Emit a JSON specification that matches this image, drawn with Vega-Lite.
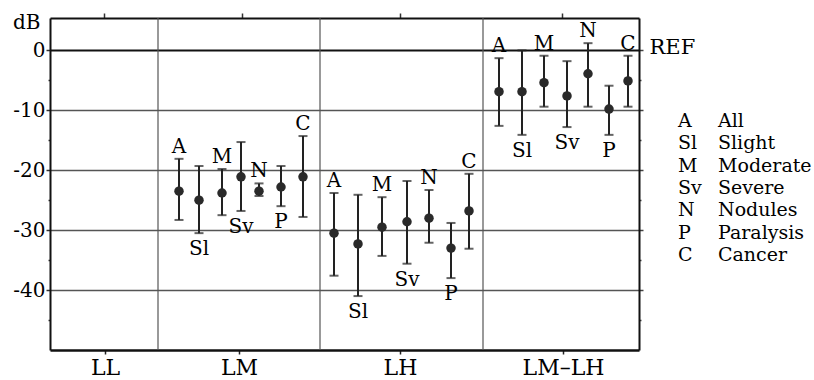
{
  "$schema": "https://vega.github.io/schema/vega-lite/v6.json",
  "padding": {"left": 12, "top": 12, "right": 0, "bottom": 0},
  "background": "white",
  "config": {
    "font": "DejaVu Serif",
    "view": {"stroke": null},
    "text": {"font": "DejaVu Serif"}
  },
  "bounds": "flush",
  "spacing": 39,
  "hconcat": [
    {
      "width": 589,
      "height": 332,
      "data": {
        "values": [
          {"grp": "LM", "abbr": "A", "x": 129, "mean": -23.5, "lo": -28.3, "hi": -18.1, "side": "above"},
          {"grp": "LM", "abbr": "Sl", "x": 149, "mean": -25.0, "lo": -30.5, "hi": -19.3, "side": "below"},
          {"grp": "LM", "abbr": "M", "x": 172, "mean": -23.8, "lo": -27.5, "hi": -19.8, "side": "above"},
          {"grp": "LM", "abbr": "Sv", "x": 191, "mean": -21.1, "lo": -26.8, "hi": -15.3, "side": "below"},
          {"grp": "LM", "abbr": "N", "x": 209, "mean": -23.5, "lo": -24.3, "hi": -22.2, "side": "above"},
          {"grp": "LM", "abbr": "P", "x": 231, "mean": -22.8, "lo": -26.0, "hi": -19.3, "side": "below"},
          {"grp": "LM", "abbr": "C", "x": 253, "mean": -21.1, "lo": -27.8, "hi": -14.3, "side": "above"},
          {"grp": "LH", "abbr": "A", "x": 284, "mean": -30.5, "lo": -37.6, "hi": -23.8, "side": "above"},
          {"grp": "LH", "abbr": "Sl", "x": 308, "mean": -32.3, "lo": -41.0, "hi": -24.1, "side": "below"},
          {"grp": "LH", "abbr": "M", "x": 332, "mean": -29.5, "lo": -34.3, "hi": -24.5, "side": "above"},
          {"grp": "LH", "abbr": "Sv", "x": 357, "mean": -28.6, "lo": -35.6, "hi": -21.8, "side": "below"},
          {"grp": "LH", "abbr": "N", "x": 379, "mean": -28.0, "lo": -32.1, "hi": -23.3, "side": "above"},
          {"grp": "LH", "abbr": "P", "x": 401, "mean": -33.0, "lo": -38.0, "hi": -28.8, "side": "below"},
          {"grp": "LH", "abbr": "C", "x": 419, "mean": -26.8, "lo": -33.1, "hi": -20.6, "side": "above"},
          {"grp": "LM-LH", "abbr": "A", "x": 449, "mean": -6.9, "lo": -12.6, "hi": -1.3, "side": "above"},
          {"grp": "LM-LH", "abbr": "Sl", "x": 472, "mean": -6.9, "lo": -14.1, "hi": 0.0, "side": "below"},
          {"grp": "LM-LH", "abbr": "M", "x": 494, "mean": -5.4, "lo": -9.4, "hi": -0.9, "side": "above"},
          {"grp": "LM-LH", "abbr": "Sv", "x": 517, "mean": -7.6, "lo": -12.8, "hi": -1.8, "side": "below"},
          {"grp": "LM-LH", "abbr": "N", "x": 538, "mean": -3.9, "lo": -9.4, "hi": 1.2, "side": "above"},
          {"grp": "LM-LH", "abbr": "P", "x": 559, "mean": -9.8, "lo": -14.1, "hi": -5.9, "side": "below"},
          {"grp": "LM-LH", "abbr": "C", "x": 578, "mean": -5.1, "lo": -9.4, "hi": -0.9, "side": "above"}
        ]
      },
      "resolve": {"axis": {"x": "independent", "y": "independent"}},
      "layer": [
        {
          "data": {"values": [{"d": 108}, {"d": 270}, {"d": 433}]},
          "mark": {"type": "rule", "color": "#555555", "strokeWidth": 1.2},
          "encoding": {
            "x": {
              "field": "d", "type": "quantitative",
              "scale": {"domain": [0, 589], "nice": false, "zero": false},
              "axis": {
                "orient": "bottom", "title": null, "grid": false,
                "values": [55, 189, 350, 513],
                "labelExpr": "datum.value == 55 ? 'LL' : datum.value == 189 ? 'LM' : datum.value == 350 ? 'LH' : 'LM–LH'",
                "labelFontSize": 22, "labelColor": "#000000", "labelPadding": 3,
                "labelFont": "DejaVu Serif",
                "tickSize": 4, "tickWidth": 1.5, "tickColor": "#222222",
                "domainColor": "#111111", "domainWidth": 2.5
              }
            }
          }
        },
        {
          "mark": {"type": "rule", "color": "#222222", "strokeWidth": 2},
          "encoding": {
            "x": {
              "field": "x", "type": "quantitative",
              "scale": {"domain": [0, 589], "nice": false, "zero": false},
              "axis": {
                "orient": "top", "title": null, "grid": false, "labels": false,
                "values": [54, 192, 350, 512],
                "tickSize": 5, "tickWidth": 1.5, "tickColor": "#333333",
                "domainColor": "#111111", "domainWidth": 2
              }
            },
            "y": {
              "field": "lo", "type": "quantitative",
              "scale": {"domain": [-50, 5.4], "nice": false, "zero": false},
              "axis": {
                "orient": "left",
                "title": "dB", "titleAngle": 0, "titleAlign": "right", "titleBaseline": "middle",
                "titleX": -10, "titleY": 4, "titleFontSize": 20, "titleFontWeight": "normal",
                "titleFont": "DejaVu Serif", "titleColor": "#000000",
                "values": [-45, -40, -35, -30, -25, -20, -15, -10, -5, 0],
                "labelExpr": "datum.value % 10 == 0 ? toString(datum.value) : ''",
                "labelFontSize": 20, "labelColor": "#000000", "labelPadding": 1,
                "labelFont": "DejaVu Serif",
                "tickSize": {"condition": {"test": "datum.value % 10 != 0", "value": 2}, "value": 4},
                "tickWidth": 1.5, "tickColor": "#333333",
                "grid": true,
                "gridOpacity": {"condition": {"test": "datum.value % 10 != 0", "value": 0}, "value": 1},
                "gridColor": {"condition": {"test": "datum.value == 0", "value": "#111111"}, "value": "#555555"},
                "gridWidth": {"condition": {"test": "datum.value == 0", "value": 2}, "value": 1.5},
                "domainColor": "#111111", "domainWidth": 2
              }
            },
            "y2": {"field": "hi"}
          }
        },
        {
          "mark": {"type": "tick", "orient": "horizontal", "size": 9, "thickness": 2, "color": "#222222"},
          "encoding": {
            "x": {"field": "x", "type": "quantitative", "axis": null},
            "y": {
              "field": "hi", "type": "quantitative",
              "axis": {
                "orient": "right", "title": null, "grid": false,
                "values": [-45, -40, -35, -30, -25, -20, -15, -10, -5, 0],
                "labelExpr": "datum.value == 0 ? 'REF' : ''",
                "labelFontSize": 21, "labelColor": "#000000", "labelPadding": 6,
                "labelFont": "DejaVu Serif", "labelOffset": -3,
                "tickSize": {"condition": {"test": "datum.value % 10 != 0", "value": 2}, "value": 4},
                "tickWidth": 1.5, "tickColor": "#444444",
                "domainColor": "#111111", "domainWidth": 2
              }
            }
          }
        },
        {
          "mark": {"type": "tick", "orient": "horizontal", "size": 9, "thickness": 2, "color": "#222222"},
          "encoding": {
            "x": {"field": "x", "type": "quantitative", "axis": null},
            "y": {"field": "lo", "type": "quantitative", "axis": null}
          }
        },
        {
          "mark": {"type": "point", "shape": "circle", "filled": true, "size": 90, "color": "#2a2a2a", "opacity": 1},
          "encoding": {
            "x": {"field": "x", "type": "quantitative", "axis": null},
            "y": {"field": "mean", "type": "quantitative", "axis": null}
          }
        },
        {
          "transform": [{"filter": "datum.side == 'above'"}],
          "mark": {"type": "text", "baseline": "alphabetic", "align": "center", "dy": -6, "fontSize": 20, "color": "#000000"},
          "encoding": {
            "x": {"field": "x", "type": "quantitative", "axis": null},
            "y": {"field": "hi", "type": "quantitative", "axis": null},
            "text": {"field": "abbr"}
          }
        },
        {
          "transform": [{"filter": "datum.side == 'below'"}],
          "mark": {"type": "text", "baseline": "top", "align": "center", "dy": 6, "fontSize": 20, "color": "#000000"},
          "encoding": {
            "x": {"field": "x", "type": "quantitative", "axis": null},
            "y": {"field": "lo", "type": "quantitative", "axis": null},
            "text": {"field": "abbr"}
          }
        }
      ]
    },
    {
      "width": 40,
      "height": 332,
      "data": {
        "values": [
          {"row": 1, "col": "abbr", "txt": "A"},
          {"row": 1, "col": "name", "txt": "All"},
          {"row": 2, "col": "abbr", "txt": "Sl"},
          {"row": 2, "col": "name", "txt": "Slight"},
          {"row": 3, "col": "abbr", "txt": "M"},
          {"row": 3, "col": "name", "txt": "Moderate"},
          {"row": 4, "col": "abbr", "txt": "Sv"},
          {"row": 4, "col": "name", "txt": "Severe"},
          {"row": 5, "col": "abbr", "txt": "N"},
          {"row": 5, "col": "name", "txt": "Nodules"},
          {"row": 6, "col": "abbr", "txt": "P"},
          {"row": 6, "col": "name", "txt": "Paralysis"},
          {"row": 7, "col": "abbr", "txt": "C"},
          {"row": 7, "col": "name", "txt": "Cancer"}
        ]
      },
      "mark": {"type": "text", "align": "left", "baseline": "middle", "fontSize": 19, "color": "#000000"},
      "encoding": {
        "x": {"field": "col", "type": "nominal", "scale": {"type": "point", "domain": ["abbr", "name"], "padding": 0}, "axis": null},
        "y": {"field": "row", "type": "quantitative", "scale": {"domain": [-3.61, 11.26], "reverse": true, "nice": false, "zero": false}, "axis": null},
        "text": {"field": "txt"}
      }
    }
  ]
}
